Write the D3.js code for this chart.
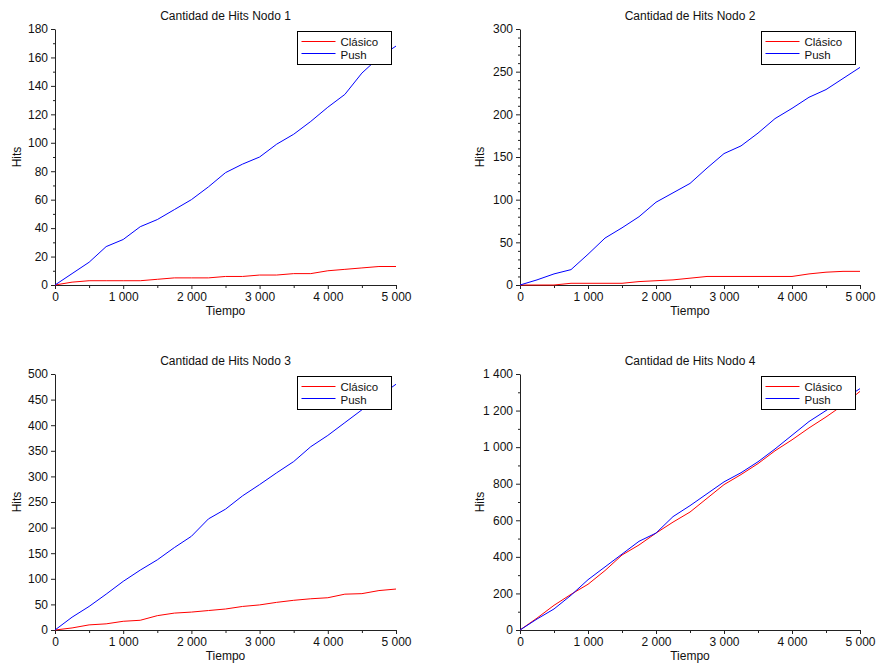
<!DOCTYPE html>
<html>
<head>
<meta charset="utf-8">
<script src="https://cdn.jsdelivr.net/npm/d3@7"></script>
<style>
  body { margin: 0; background: #fff; }
  text { font-family: "Liberation Sans", Arial, sans-serif; fill: #111; }
</style>
</head>
<body>
<div id="chart"></div>
<script>
// Tiempo (sample points)
const tiempo = [0, 250, 500, 750, 1000, 1250, 1500, 1750, 2000, 2250, 2500,
                2750, 3000, 3250, 3500, 3750, 4000, 4250, 4500, 4750, 5000];

const series = ["Clásico", "Push"];
const colors = ["#ff0000", "#0000ff"];

// Nodo 1
const clasico1 = [0, 2, 3, 3, 3, 3, 4, 5, 5, 5, 6, 6, 7, 7, 8, 8, 10, 11, 12, 13, 13];
const push1    = [0, 8, 16, 27, 32, 41, 46, 53, 60, 69, 79, 85, 90, 99, 106, 115, 125, 134, 149, 160, 168];
// Nodo 2
const clasico2 = [0, 0, 0, 2, 2, 2, 2, 4, 5, 6, 8, 10, 10, 10, 10, 10, 10, 13, 15, 16, 16];
const push2    = [0, 6, 13, 18, 36, 55, 67, 80, 97, 108, 119, 137, 154, 163, 178, 195, 207, 220, 229, 242, 255];
// Nodo 3
const clasico3 = [0, 4, 10, 12, 17, 19, 28, 33, 35, 38, 41, 46, 49, 54, 58, 61, 63, 70, 71, 77, 80];
const push3    = [0, 25, 46, 70, 95, 117, 137, 161, 183, 217, 236, 262, 284, 307, 329, 358, 380, 405, 430, 456, 480];
// Nodo 4
const clasico4 = [0, 65, 135, 195, 250, 325, 410, 465, 530, 590, 645, 720, 795, 850, 910, 980, 1040, 1105, 1165, 1230, 1305];
const push4    = [0, 60, 115, 190, 275, 345, 415, 485, 530, 620, 680, 745, 810, 860, 920, 990, 1065, 1140, 1200, 1260, 1320];

const titles = ["Cantidad de Hits Nodo 1", "Cantidad de Hits Nodo 2",
                "Cantidad de Hits Nodo 3", "Cantidad de Hits Nodo 4"];
const yMax = [180, 300, 500, 1400];
const yStep = [20, 50, 50, 200];
const yMinor = [10, 10, 0, 100];

const panels = [
  { x0: 55,  x1: 396, y0: 29,  y1: 285, data: [clasico1, push1] },
  { x0: 520, x1: 860, y0: 29,  y1: 285, data: [clasico2, push2] },
  { x0: 55,  x1: 396, y0: 374, y1: 630, data: [clasico3, push3] },
  { x0: 520, x1: 860, y0: 374, y1: 630, data: [clasico4, push4] }
];

const loc = d3.formatLocale({ decimal: ",", thousands: " ", grouping: [3], currency: ["", ""] });
const fmt = loc.format(",d");

const svg = d3.select("#chart").append("svg")
  .attr("width", 877).attr("height", 666);

panels.forEach((p, i) => {
  const x = d3.scaleLinear().domain([0, 5000]).range([p.x0, p.x1]);
  const y = d3.scaleLinear().domain([0, yMax[i]]).range([p.y1, p.y0]);
  const g = svg.append("g");

  // minor ticks
  g.append("g")
    .attr("transform", `translate(0,${p.y1})`)
    .call(d3.axisBottom(x).tickValues(d3.range(500, 5000, 1000)).tickSize(3).tickFormat(""))
    .call(a => a.select(".domain").remove());
  if (yMinor[i]) {
    g.append("g")
      .attr("transform", `translate(${p.x0},0)`)
      .call(d3.axisLeft(y).tickValues(d3.range(0, yMax[i] + 1, yMinor[i])
        .filter(v => v % yStep[i] !== 0)).tickSize(2).tickFormat(""))
      .call(a => a.select(".domain").remove());
  }

  g.append("g")
    .attr("transform", `translate(0,${p.y1})`)
    .call(d3.axisBottom(x).tickValues(d3.range(0, 5001, 1000)).tickFormat(fmt)
      .tickSize(4).tickSizeOuter(0).tickPadding(3));
  g.append("g")
    .attr("transform", `translate(${p.x0},0)`)
    .call(d3.axisLeft(y).tickValues(d3.range(0, yMax[i] + 1, yStep[i])).tickFormat(fmt)
      .tickSize(4).tickSizeOuter(0).tickPadding(3));
  g.selectAll(".tick text").style("font-size", "12px").attr("fill", "#111");
  g.selectAll(".domain, .tick line").attr("stroke", "#222");

  // title & axis labels
  g.append("text")
    .attr("x", (p.x0 + p.x1) / 2).attr("y", p.y0 - 9)
    .attr("text-anchor", "middle").style("font-size", "12px").text(titles[i]);
  g.append("text")
    .attr("x", (p.x0 + p.x1) / 2).attr("y", p.y1 + 30)
    .attr("text-anchor", "middle").style("font-size", "12px").text("Tiempo");
  g.append("text")
    .attr("transform", `translate(${i % 2 ? p.x0 - 36 : p.x0 - 34},${(p.y0 + p.y1) / 2}) rotate(-90)`)
    .attr("text-anchor", "middle").style("font-size", "12px").text("Hits");

  // lines
  const line = d3.line().x((d, j) => x(tiempo[j])).y(d => y(d));
  p.data.forEach((vals, k) => {
    g.append("path")
      .datum(vals)
      .attr("fill", "none")
      .attr("stroke", colors[k])
      .attr("stroke-width", 1)
      .attr("d", line);
  });

  // legend
  const lx = Math.round(p.x1 - 99) + 0.5, ly = p.y0 + 2.5;
  const lg = g.append("g").attr("transform", `translate(${lx},${ly})`);
  lg.append("rect").attr("width", 94).attr("height", 33)
    .attr("fill", "#fff").attr("stroke", "#000").attr("stroke-width", 1);
  series.forEach((s, k) => {
    lg.append("line").attr("x1", 4).attr("x2", 38)
      .attr("y1", 10 + k * 12).attr("y2", 10 + k * 12)
      .attr("stroke", colors[k]).attr("stroke-width", 1);
    lg.append("text").attr("x", 43).attr("y", 14.5 + k * 12.5)
      .style("font-size", "11.5px").text(s);
  });
});
</script>
</body>
</html>
